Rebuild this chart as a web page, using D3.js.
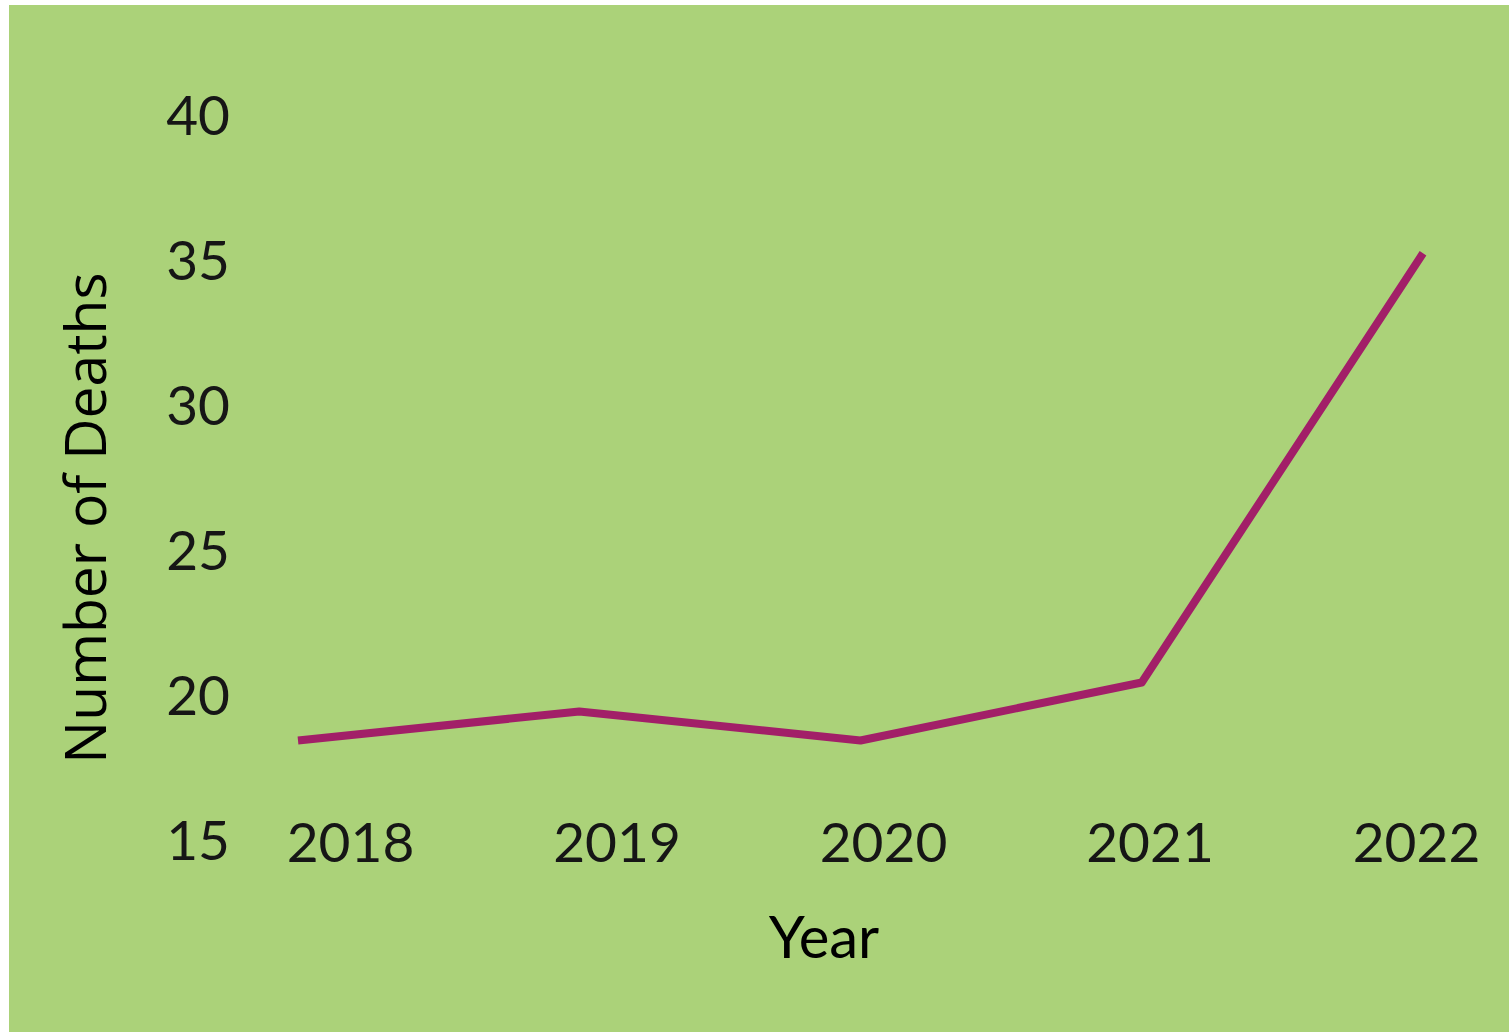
<!DOCTYPE html>
<html>
<head>
<meta charset="utf-8">
<script src="https://cdn.jsdelivr.net/npm/d3@7"></script>
<style>
  html, body { margin: 0; padding: 0; background: #ffffff; }
  svg { display: block; }
</style>
</head>
<body>
<svg id="chart" width="1509" height="1032"></svg>
<script>
// Annual deaths, 2018–2022
const years = ["2018", "2019", "2020", "2021", "2022"];
const deaths = [18.5, 19.5, 18.5, 20.5, 35.3];
const yTicks = [15, 20, 25, 30, 35, 40];

const svg = d3.select("#chart");
const W = 1509, H = 1032;

// panel background
svg.append("rect")
  .attr("x", 9).attr("y", 5)
  .attr("width", W - 9).attr("height", H - 5)
  .attr("fill", "#abd279");

const y = d3.scaleLinear().domain([15, 40]).range([842, 117]);
const xLine = d3.scalePoint().domain(years).range([298, 1423]);
const xLabel = d3.scalePoint().domain(years).range([350, 1416]);

const tickFont = "Lato, 'DejaVu Sans', sans-serif";

// y axis labels
const yAxis = svg.append("g")
  .attr("transform", "translate(230,0)")
  .call(d3.axisLeft(y).tickValues(yTicks).tickSize(0).tickPadding(0).tickFormat(d3.format("d")));
yAxis.select(".domain").remove();
yAxis.selectAll("text")
  .attr("fill", "#161616")
  .style("font-family", tickFont)
  .style("font-size", "55px");

// x axis labels
const xAxis = svg.append("g")
  .attr("transform", "translate(0,821)")
  .call(d3.axisBottom(xLabel).tickSize(0).tickPadding(2));
xAxis.select(".domain").remove();
xAxis.selectAll("text")
  .attr("fill", "#161616")
  .style("font-family", tickFont)
  .style("font-size", "55px");

// series line
const line = d3.line()
  .x((d, i) => xLine(years[i]))
  .y(d => y(d));

svg.append("path")
  .datum(deaths)
  .attr("d", line)
  .attr("fill", "none")
  .attr("stroke", "#a21f68")
  .attr("stroke-width", 8)
  .attr("stroke-linejoin", "round");

// axis titles
svg.append("text")
  .attr("x", 824).attr("y", 958)
  .attr("text-anchor", "middle")
  .attr("fill", "#000")
  .style("font-family", "Lato, 'Open Sans', sans-serif")
  .style("font-size", "58px")
  .text("Year");

svg.append("text")
  .attr("transform", "translate(106,518) rotate(-90)")
  .attr("text-anchor", "middle")
  .attr("fill", "#000")
  .style("font-family", "'Open Sans', 'Noto Sans', sans-serif")
  .style("font-size", "57px")
  .text("Number of Deaths");
</script>
</body>
</html>
